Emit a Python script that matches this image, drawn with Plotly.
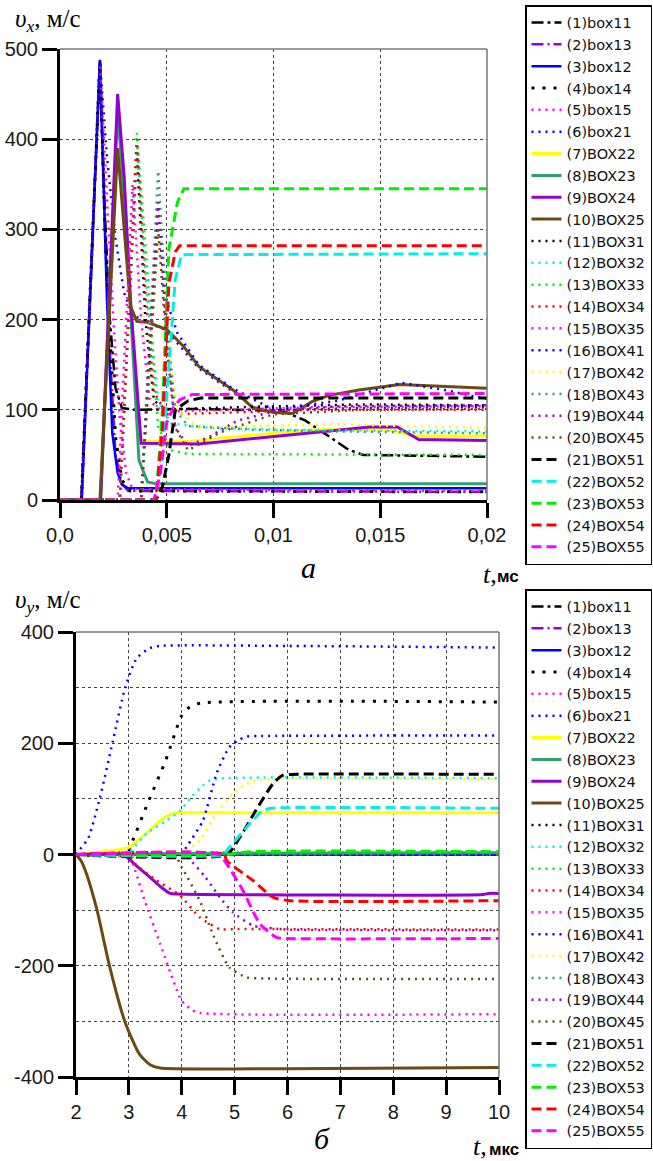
import plotly.graph_objects as go

# ---------------- legend names ----------------
NAMES = ["(1)box11", "(2)box13", "(3)box12", "(4)box14", "(5)box15", "(6)box21",
         "(7)BOX22", "(8)BOX23", "(9)BOX24", "(10)BOX25",
         "(11)BOX31", "(12)BOX32", "(13)BOX33", "(14)BOX34", "(15)BOX35",
         "(16)BOX41", "(17)BOX42", "(18)BOX43", "(19)BOX44", "(20)BOX45",
         "(21)BOX51", "(22)BOX52", "(23)BOX53", "(24)BOX54", "(25)BOX55"]

# ---------------- panel a: v_x (t in ms) ----------------
TA_box11 = [0, 0.00100, 0.00187, 0.0021, 0.0023, 0.0026, 0.0029, 0.0035, 0.0060, 0.0104, 0.0115, 0.0125, 0.0135, 0.0142, 0.0200]
VX_box11 = [0, 0, 487, 320, 210, 124, 102, 100, 101, 99, 88, 72, 56, 50, 48]
TA_box13 = [0, 0.00100, 0.00187, 0.0021, 0.0023, 0.0026, 0.0029, 0.0032, 0.0200]
VX_box13 = [0, 0, 485, 300, 180, 50, 18, 10, 9]
TA_box12 = [0, 0.00102, 0.00187, 0.0021, 0.0022, 0.00245, 0.0027, 0.0029, 0.0032, 0.0200]
VX_box12 = [0, 0, 488, 300, 222, 74, 30, 17, 13, 13]
TA_box14 = [0, 0.00100, 0.00187, 0.0021, 0.0023, 0.0026, 0.0029, 0.0033, 0.0200]
VX_box14 = [0, 0, 486, 310, 200, 70, 22, 10, 9]
TA_box15 = [0, 0.00102, 0.00187, 0.0022, 0.0025, 0.0028, 0.0031, 0.0034, 0.0200]
VX_box15 = [0, 0, 484, 330, 200, 90, 30, 12, 10]
TA_box21 = [0, 0.00100, 0.00187, 0.0022, 0.0026, 0.0030, 0.0034, 0.0040, 0.0050, 0.0065, 0.0081, 0.0090, 0.0110, 0.0140, 0.0200]
VX_box21 = [0, 0, 486, 380, 290, 230, 205, 198, 188, 146, 120, 104, 100, 102, 103]
TA_BOX22 = [0, 0.00190, 0.0027, 0.0030, 0.0033, 0.0036, 0.0038, 0.0060, 0.0090, 0.0120, 0.0155, 0.0165, 0.0200]
VX_BOX22 = [0, 0, 445, 360, 220, 110, 65, 65, 72, 78, 78, 71, 71]
TA_BOX23 = [0, 0.00190, 0.0027, 0.0030, 0.0034, 0.0037, 0.0041, 0.0045, 0.0200]
VX_BOX23 = [0, 0, 430, 340, 170, 44, 20, 18, 18]
TA_BOX24 = [0, 0.00190, 0.0027, 0.0030, 0.0033, 0.0036, 0.0038, 0.0065, 0.0090, 0.0120, 0.0145, 0.0158, 0.0168, 0.0200]
VX_BOX24 = [0, 0, 450, 360, 222, 120, 63, 62, 68, 75, 81, 81, 67, 66]
TA_BOX25 = [0, 0.00187, 0.0027, 0.0030, 0.0033, 0.0036, 0.0041, 0.0050, 0.0058, 0.0065, 0.0073, 0.0081, 0.0090, 0.0100, 0.0109, 0.0118, 0.0126, 0.0140, 0.0159, 0.0180, 0.0200]
VX_BOX25 = [0, 0, 390, 300, 215, 198, 197, 189, 170, 148, 135, 122, 103, 97, 96, 109, 116, 122, 128, 126, 124]
TA_BOX31 = [0, 0.0028, 0.0036, 0.0040, 0.0044, 0.0050, 0.0070, 0.0100, 0.0140, 0.0200]
VX_BOX31 = [0, 0, 385, 200, 110, 100, 102, 104, 106, 105]
TA_BOX32 = [0, 0.0028, 0.0036, 0.0041, 0.0046, 0.0052, 0.0070, 0.0100, 0.0140, 0.0200]
VX_BOX32 = [0, 0, 395, 220, 110, 85, 80, 78, 77, 76]
TA_BOX33 = [0, 0.0028, 0.0036, 0.0041, 0.0046, 0.0052, 0.0060, 0.0200]
VX_BOX33 = [0, 0, 407, 250, 80, 55, 51, 50]
TA_BOX34 = [0, 0.0028, 0.0036, 0.0040, 0.0044, 0.0050, 0.0080, 0.0120, 0.0200]
VX_BOX34 = [0, 0, 400, 230, 120, 95, 97, 100, 100]
TA_BOX35 = [0, 0.0027, 0.0034, 0.0038, 0.0042, 0.0048, 0.0080, 0.0120, 0.0200]
VX_BOX35 = [0, 0, 350, 200, 110, 98, 100, 103, 104]
TA_BOX41 = [0, 0.0038, 0.0046, 0.0050, 0.0055, 0.0065, 0.0080, 0.0100, 0.0130, 0.0160, 0.0180, 0.0200]
VX_BOX41 = [0, 0, 330, 220, 185, 150, 125, 100, 110, 130, 122, 112]
TA_BOX42 = [0, 0.0038, 0.0046, 0.0050, 0.0055, 0.0065, 0.0090, 0.0130, 0.0160, 0.0200]
VX_BOX42 = [0, 0, 300, 180, 100, 80, 82, 84, 82, 80]
TA_BOX43 = [0, 0.0038, 0.0046, 0.0050, 0.0054, 0.0060, 0.0090, 0.0130, 0.0200]
VX_BOX43 = [0, 0, 365, 200, 100, 82, 78, 76, 74]
TA_BOX44 = [0, 0.0038, 0.0046, 0.0050, 0.0054, 0.0060, 0.0070, 0.0083, 0.0100, 0.0130, 0.0200]
VX_BOX44 = [0, 0, 330, 180, 80, 60, 70, 88, 98, 104, 105]
TA_BOX45 = [0, 0.0038, 0.0046, 0.0050, 0.0054, 0.0060, 0.0075, 0.0100, 0.0140, 0.0200]
VX_BOX45 = [0, 0, 300, 170, 80, 55, 75, 95, 100, 101]
TA_BOX51 = [0, 0.0045, 0.0048, 0.0051, 0.0054, 0.0060, 0.0066, 0.0200]
VX_BOX51 = [0, 0, 15, 50, 100, 110, 113, 113]
TA_BOX52 = [0, 0.0045, 0.0048, 0.0051, 0.0054, 0.0057, 0.0200]
VX_BOX52 = [0, 0, 50, 150, 245, 272, 273]
TA_BOX53 = [0, 0.0045, 0.0048, 0.0051, 0.0055, 0.0058, 0.0200]
VX_BOX53 = [0, 0, 100, 278, 330, 345, 345]
TA_BOX54 = [0, 0.0045, 0.0048, 0.0051, 0.0054, 0.0056, 0.0200]
VX_BOX54 = [0, 0, 80, 240, 275, 282, 282]
TA_BOX55 = [0, 0.0044, 0.0047, 0.0050, 0.0053, 0.0056, 0.0062, 0.0200]
VX_BOX55 = [0, 0, 30, 86, 102, 111, 117, 118]

# ---------------- panel б: v_y (t in mks) ----------------
TB_box11 = [2, 10]; VY_box11 = [0, 0]
TB_box13 = [2, 10]; VY_box13 = [0, 0]
TB_box12 = [2, 10]; VY_box12 = [0, 0]
TB_box14 = [2, 2.95, 3.05, 3.36, 3.7, 4.0, 4.15, 4.35, 10]
VY_box14 = [0, 0, 20, 93, 170, 250, 265, 272, 274]
TB_box15 = [2, 3.0, 3.1, 3.3, 3.59, 4.0, 4.2, 4.35, 10]
VY_box15 = [0, 0, -23, -83, -160, -263, -280, -285, -287]
TB_box21 = [2, 2.08, 2.23, 2.45, 2.7, 2.93, 3.15, 3.4, 3.59, 6.0, 10]
VY_box21 = [0, 10, 29, 101, 205, 300, 353, 371, 375, 375, 372]
TB_BOX22 = [2, 2.5, 3.0, 3.2, 3.45, 3.65, 3.84, 4.0, 10]
VY_BOX22 = [0, 5, 13, 28, 48, 65, 74, 75, 75]
TB_BOX23 = [2, 4, 10]; VY_BOX23 = [0, 2, 3]
TB_BOX24 = [2, 2.9, 3.0, 3.2, 3.4, 3.6, 3.78, 3.9, 9.7, 9.8, 10]
VY_BOX24 = [0, 0, -8, -25, -41, -58, -70, -71, -72, -70, -70]
TB_BOX25 = [2, 2.1, 2.2, 2.4, 2.64, 2.93, 3.2, 3.4, 3.59, 6.0, 10]
VY_BOX25 = [0, -12, -35, -101, -203, -302, -359, -378, -384, -385, -383]
TB_BOX31 = [2, 10]; VY_BOX31 = [0, 1]
TB_BOX32 = [2, 2.95, 3.0, 3.34, 3.7, 3.97, 4.16, 4.35, 4.53, 4.8, 10]
VY_BOX32 = [0, 0, 3, 38, 60, 79, 101, 120, 133, 137, 137]
TB_BOX33 = [2, 4, 10]; VY_BOX33 = [0, 3, 5]
TB_BOX34 = [2, 2.95, 3.15, 3.5, 3.97, 4.34, 4.72, 5.0, 10]
VY_BOX34 = [0, 0, -20, -45, -74, -113, -134, -134, -135]
TB_BOX35 = [2, 10]; VY_BOX35 = [0, 0]
TB_BOX41 = [2, 3.98, 4.1, 4.4, 4.66, 4.9, 5.1, 5.23, 5.5, 10]
VY_BOX41 = [0, 0, 15, 61, 146, 193, 207, 212, 213, 214]
TB_BOX42 = [2, 3.95, 4.1, 4.34, 4.66, 4.97, 5.3, 5.6, 10]
VY_BOX42 = [0, 0, 8, 25, 75, 110, 130, 135, 135]
TB_BOX43 = [2, 10]; VY_BOX43 = [0, 2]
TB_BOX44 = [2, 3.9, 4.1, 4.44, 4.72, 4.97, 5.35, 5.73, 6.0, 10]
VY_BOX44 = [0, 0, -5, -40, -77, -104, -128, -133, -135, -136]
TB_BOX45 = [2, 3.85, 4.0, 4.34, 4.6, 4.9, 5.23, 5.6, 10]
VY_BOX45 = [0, 0, -23, -83, -146, -203, -221, -223, -224]
TB_BOX51 = [2, 4.85, 5.1, 5.4, 5.73, 5.9, 6.05, 10]
VY_BOX51 = [0, 0, 31, 79, 128, 142, 144, 144]
TB_BOX52 = [2, 4.8, 4.85, 5.23, 5.53, 5.7, 10]
VY_BOX52 = [0, 0, 7, 49, 79, 83, 83]
TB_BOX53 = [2, 4.85, 5.3, 10]; VY_BOX53 = [0, 0, 5, 5]
TB_BOX54 = [2, 4.8, 4.85, 5.35, 5.73, 6.05, 10]
VY_BOX54 = [0, 0, -11, -47, -77, -83, -83]
TB_BOX55 = [2, 4.7, 4.85, 5.16, 5.48, 5.79, 6.0, 10]
VY_BOX55 = [0, 0, -17, -65, -125, -149, -151, -151]

# tick labels
XA_TICKS = [0, 0.005, 0.01, 0.015, 0.02]
XA_LABELS = ["0,0", "0,005", "0,01", "0,015", "0,02"]
YA_TICKS = [0, 100, 200, 300, 400, 500]
XB_TICKS = [2, 3, 4, 5, 6, 7, 8, 9, 10]
YB_TICKS = [-400, -200, 0, 200, 400]
YB_LABELS = ["-400", "-200", "0", "200", "400"]
YB_MINOR = [-300, -100, 100, 300]

TOP = [(TA_box11, VX_box11), (TA_box13, VX_box13), (TA_box12, VX_box12), (TA_box14, VX_box14),
       (TA_box15, VX_box15), (TA_box21, VX_box21), (TA_BOX22, VX_BOX22), (TA_BOX23, VX_BOX23),
       (TA_BOX24, VX_BOX24), (TA_BOX25, VX_BOX25), (TA_BOX31, VX_BOX31), (TA_BOX32, VX_BOX32),
       (TA_BOX33, VX_BOX33), (TA_BOX34, VX_BOX34), (TA_BOX35, VX_BOX35), (TA_BOX41, VX_BOX41),
       (TA_BOX42, VX_BOX42), (TA_BOX43, VX_BOX43), (TA_BOX44, VX_BOX44), (TA_BOX45, VX_BOX45),
       (TA_BOX51, VX_BOX51), (TA_BOX52, VX_BOX52), (TA_BOX53, VX_BOX53), (TA_BOX54, VX_BOX54),
       (TA_BOX55, VX_BOX55)]
BOT = [(TB_box11, VY_box11), (TB_box13, VY_box13), (TB_box12, VY_box12), (TB_box14, VY_box14),
       (TB_box15, VY_box15), (TB_box21, VY_box21), (TB_BOX22, VY_BOX22), (TB_BOX23, VY_BOX23),
       (TB_BOX24, VY_BOX24), (TB_BOX25, VY_BOX25), (TB_BOX31, VY_BOX31), (TB_BOX32, VY_BOX32),
       (TB_BOX33, VY_BOX33), (TB_BOX34, VY_BOX34), (TB_BOX35, VY_BOX35), (TB_BOX41, VY_BOX41),
       (TB_BOX42, VY_BOX42), (TB_BOX43, VY_BOX43), (TB_BOX44, VY_BOX44), (TB_BOX45, VY_BOX45),
       (TB_BOX51, VY_BOX51), (TB_BOX52, VY_BOX52), (TB_BOX53, VY_BOX53), (TB_BOX54, VY_BOX54),
       (TB_BOX55, VY_BOX55)]

# ---------------- styles ----------------
BLACK, PURPLE, BLUE, MAGENTA = "#000000", "#9400D3", "#0000FF", "#FF00FF"
YELLOW, TEAL, BROWN, CYAN = "#FFFF00", "#33A06E", "#6B4A14", "#00EEEE"
GREEN, RED = "#00EE00", "#FF0000"
DOT = "2px,5px"
DASH = "10px,5px"
STYLES = [
    (BLACK, "12px,4px,3px,4px", 2.5), (PURPLE, "12px,4px,2px,4px", 2.5), (BLUE, "solid", 2.5),
    (BLACK, "3px,8px", 3), (MAGENTA, DOT, 2.5), (BLUE, DOT, 2.5),
    (YELLOW, "solid", 3), (TEAL, "solid", 3), (PURPLE, "solid", 3), (BROWN, "solid", 3),
    (BLACK, DOT, 2.5), (CYAN, DOT, 2.5), (GREEN, DOT, 2.5), (RED, DOT, 2.5), (MAGENTA, DOT, 2.5),
    (BLUE, DOT, 2.5), (YELLOW, DOT, 2.5), (TEAL, DOT, 2.5), (PURPLE, DOT, 2.5), (BROWN, DOT, 2.5),
    (BLACK, DASH, 3), (CYAN, DASH, 3), (GREEN, DASH, 3), (RED, DASH, 3), (MAGENTA, DASH, 3),
]

fig = go.Figure()
for name, (t, v), (c, d, w) in zip(NAMES, TOP, STYLES):
    fig.add_trace(go.Scatter(x=t, y=v, name=name, mode="lines", xaxis="x", yaxis="y",
                             legend="legend", line=dict(color=c, dash=d, width=w)))
for name, (t, v), (c, d, w) in zip(NAMES, BOT, STYLES):
    fig.add_trace(go.Scatter(x=t, y=v, name=name, mode="lines", xaxis="x2", yaxis="y2",
                             legend="legend2",
                             line=dict(color=c, dash=d, width=w, shape="spline", smoothing=0.6)))

# the page's body margin is removed (post_script below), so the figure fills the window
W, H = 653, 1161


def px(x):
    return x / W


def py(y):
    return 1 - y / H


SANS = "Liberation Sans"
SERIF = "Liberation Serif"
TICKFONT = dict(family=SANS, size=20, color="#1a1a1a")
GRID = dict(showgrid=True, griddash="dot", gridcolor="#444444", gridwidth=1,
            showline=True, linecolor="black", linewidth=3, ticks="outside",
            ticklen=15, tickwidth=3, tickcolor="black", zeroline=False, tickfont=TICKFONT,
            automargin=False)
LEGFONT = dict(family="DejaVu Sans", size=14.5, color="#111")

fig.update_layout(
    width=W, height=H, autosize=False,
    margin=dict(l=0, r=0, t=0, b=0, autoexpand=False),
    paper_bgcolor="white", plot_bgcolor="white",
    showlegend=True,
    xaxis=dict(domain=[px(60), px(487)], anchor="y", range=[0, 0.02],
               tickvals=XA_TICKS, ticktext=XA_LABELS, **GRID),
    yaxis=dict(domain=[py(500), py(49)], anchor="x", range=[0, 500],
               tickvals=YA_TICKS, **GRID),
    xaxis2=dict(domain=[px(76), px(499)], anchor="y2", range=[2, 10],
                tickvals=XB_TICKS, **GRID),
    yaxis2=dict(domain=[py(1077), py(632)], anchor="x2", range=[-400, 400],
                tickvals=YB_TICKS, ticktext=YB_LABELS,
                minor=dict(tickvals=YB_MINOR, showgrid=True, griddash="dot",
                           gridcolor="#444444", gridwidth=1, ticks=""),
                **GRID),
    legend=dict(x=px(652), y=py(5), xanchor="right", yanchor="top",
                bgcolor="white", bordercolor="black", borderwidth=1.5,
                font=LEGFONT, traceorder="normal", itemwidth=30),
    legend2=dict(x=px(652), y=py(589), xanchor="right", yanchor="top",
                 bgcolor="white", bordercolor="black", borderwidth=1.5,
                 font=LEGFONT, traceorder="normal", itemwidth=30),
)

# thin top/right frame of each panel
for xr, yr in (("x domain", "y domain"), ("x2 domain", "y2 domain")):
    fig.add_shape(type="line", xref=xr, yref=yr, x0=0, x1=1, y0=1, y1=1,
                  line=dict(color="#777777", width=1.5))
    fig.add_shape(type="line", xref=xr, yref=yr, x0=1, x1=1, y0=0, y1=1,
                  line=dict(color="#777777", width=1.5))

ann = [
    dict(text="<i>υ<sub>x</sub></i>, м/с", x=13, y=20, size=25, fam=SERIF, xa="left"),
    dict(text="<i>υ<sub>y</sub></i>, м/с", x=13, y=601, size=25, fam=SERIF, xa="left"),
    dict(text="<i>а</i>", x=308, y=568, size=30, fam=SERIF, xa="center"),
    dict(text="<i>б</i>", x=322, y=1138, size=30, fam=SERIF, xa="center"),
    dict(text="<i>t</i>,", x=481, y=574, size=26, fam=SERIF, xa="left"),
    dict(text="<b>мс</b>", x=495, y=577, size=17, fam=SANS, xa="left"),
    dict(text="<i>t</i>,", x=471, y=1146, size=26, fam=SERIF, xa="left"),
    dict(text="<b>мкс</b>", x=487, y=1149, size=17, fam=SANS, xa="left"),
]
for a in ann:
    fig.add_annotation(text=a["text"], x=px(a["x"]), y=py(a["y"]), xref="paper", yref="paper",
                       xanchor=a["xa"], yanchor="middle", showarrow=False,
                       font=dict(family=a["fam"], size=a["size"], color="black"))

fig.write_html("out.html", config={"displayModeBar": False},
               post_script="document.body.style.margin='0';")
